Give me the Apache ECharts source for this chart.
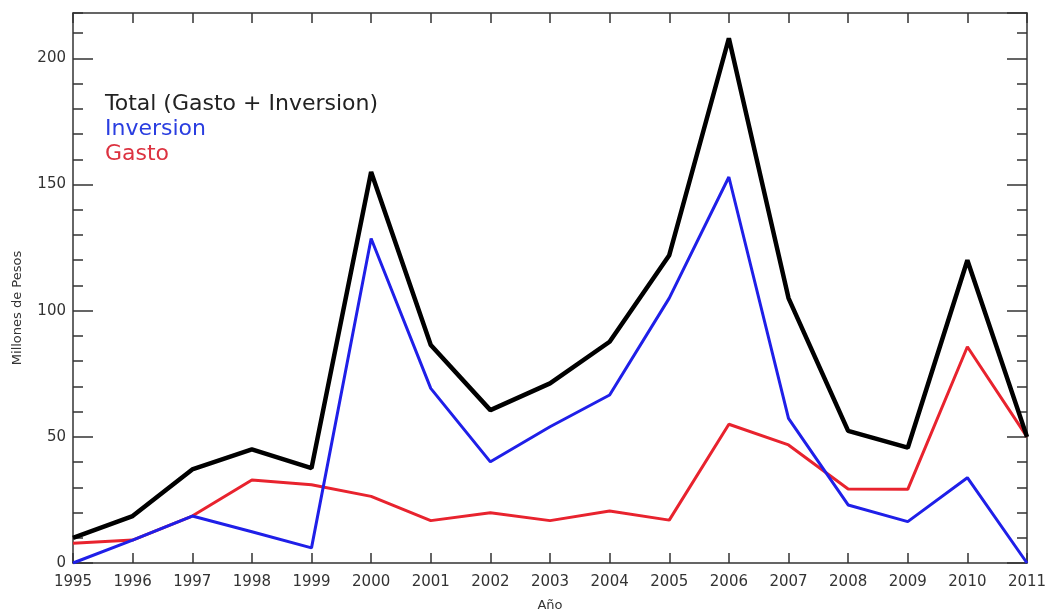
<!DOCTYPE html>
<html>
<head>
<meta charset="utf-8">
<script src="https://cdn.jsdelivr.net/npm/echarts@6/dist/echarts.min.js"></script>
<style>
html,body{margin:0;padding:0;background:#fff;}
#chart{width:1049px;height:614px;}
</style>
</head>
<body>
<div id="chart"></div>
<script>
const years = [1995,1996,1997,1998,1999,2000,2001,2002,2003,2004,2005,2006,2007,2008,2009,2010,2011];
const total = [10,18.6,37.1,45,37.6,155,86.4,60.6,71.2,87.7,122,208,105,52.4,45.7,120,50];
const inversion = [0,9.1,18.6,12.4,6,128.6,69.2,40.1,54,66.6,105,153,57.3,23,16.4,33.8,0];
const gasto = [7.8,9.1,18.6,32.9,31,26.4,16.8,19.9,16.8,20.6,17,55,46.8,29.3,29.2,85.7,50];
const seriesNames = ['Total (Gasto + Inversion)','Inversion','Gasto'];
const xName = 'Año';
const yName = 'Millones de Pesos';

const pairs = arr => years.map((y,i)=>[y,arr[i]]);
const axisColor = '#333';
const FONT = 'DejaVu Sans';

const chart = echarts.init(document.getElementById('chart'));
const yBase = {type:'value', min:0, max:218, splitLine:{show:false}};
const xBase = {type:'value', min:1995, max:2011, interval:1, splitLine:{show:false}};
const line = {show:true, onZero:false, lineStyle:{color:axisColor, width:1.5}};
chart.setOption({
  animation:false,
  backgroundColor:'#fff',
  grid:{left:73, right:22, top:13, bottom:51, containLabel:false, outerBoundsMode:'none'},
  legend:{
    orient:'vertical', left:95, top:88, icon:'none', itemWidth:0, itemHeight:0, itemGap:3,
    selectedMode:false,
    textStyle:{fontFamily:FONT, fontSize:22, padding:0},
    data:[
      {name:seriesNames[0], textStyle:{color:'#222'}},
      {name:seriesNames[1], textStyle:{color:'#2a3ee0'}},
      {name:seriesNames[2], textStyle:{color:'#dc3240'}}
    ]
  },
  xAxis:[
    Object.assign({}, xBase, {position:'bottom', name:xName, nameLocation:'middle', nameGap:36,
      nameTextStyle:{fontFamily:FONT, fontSize:13, color:'#333'},
      axisLine:line,
      axisTick:{show:true, inside:true, length:10, lineStyle:{color:axisColor, width:1.5}},
      axisLabel:{show:true, margin:12, fontFamily:FONT, fontSize:15, color:'#333', formatter:v=>String(v)}}),
    Object.assign({}, xBase, {position:'top',
      axisLine:line,
      axisTick:{show:true, inside:true, length:10, lineStyle:{color:axisColor, width:1.5}},
      axisLabel:{show:false}})
  ],
  yAxis:[
    Object.assign({}, yBase, {position:'left', interval:50, name:yName, nameLocation:'middle', nameGap:49,
      nameTextStyle:{fontFamily:FONT, fontSize:13, color:'#333', padding:[0,40,0,0]},
      axisLine:line,
      axisTick:{show:true, inside:true, length:20, lineStyle:{color:axisColor, width:1.5}},
      axisLabel:{show:true, margin:7, showMaxLabel:false, fontFamily:FONT, fontSize:15, color:'#333'}}),
    Object.assign({}, yBase, {position:'left', interval:10,
      axisLine:{show:false, onZero:false},
      axisTick:{show:true, inside:true, length:10, lineStyle:{color:axisColor, width:1.5}},
      axisLabel:{show:false}}),
    Object.assign({}, yBase, {position:'right', interval:50,
      axisLine:line,
      axisTick:{show:true, inside:true, length:20, lineStyle:{color:axisColor, width:1.5}},
      axisLabel:{show:false}}),
    Object.assign({}, yBase, {position:'right', interval:10,
      axisLine:{show:false, onZero:false},
      axisTick:{show:true, inside:true, length:10, lineStyle:{color:axisColor, width:1.5}},
      axisLabel:{show:false}})
  ],
  series:[
    {name:seriesNames[2], type:'line', data:pairs(gasto), showSymbol:false, symbol:'none',
      lineStyle:{color:'#e8232e', width:3}, itemStyle:{color:'#e8232e'}, z:2},
    {name:seriesNames[1], type:'line', data:pairs(inversion), showSymbol:false, symbol:'none',
      lineStyle:{color:'#1f1fe8', width:3}, itemStyle:{color:'#1f1fe8'}, z:3},
    {name:seriesNames[0], type:'line', data:pairs(total), showSymbol:false, symbol:'none',
      lineStyle:{color:'#000', width:4.5}, itemStyle:{color:'#000'}, z:4}
  ]
});
</script>
</body>
</html>
